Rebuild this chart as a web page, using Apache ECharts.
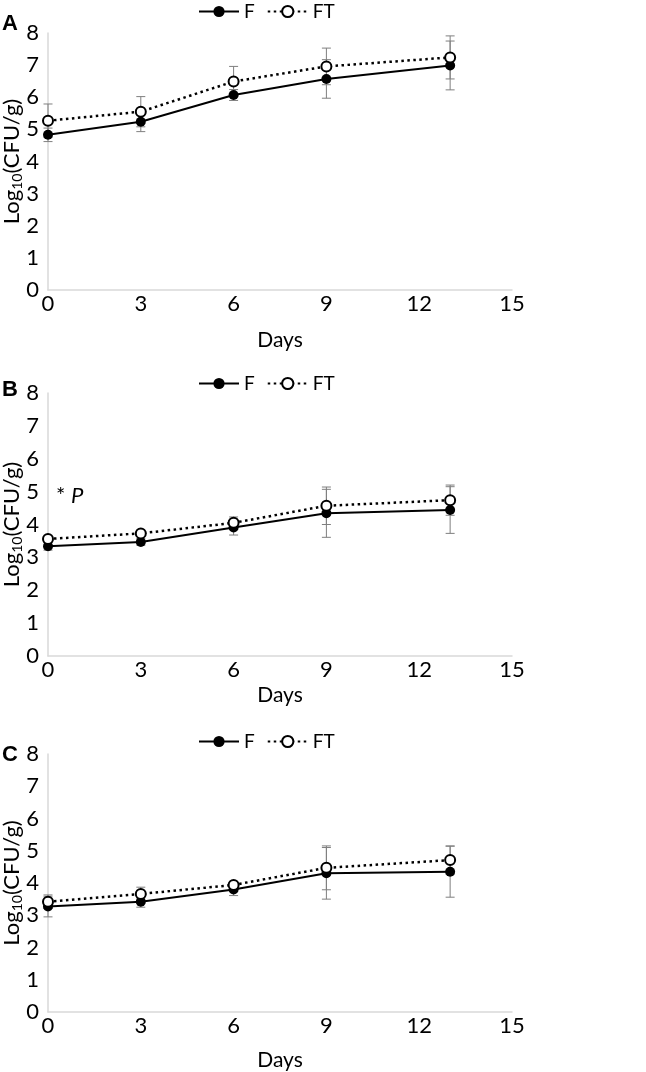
<!DOCTYPE html>
<html><head><meta charset="utf-8">
<script src="https://cdn.jsdelivr.net/npm/echarts/dist/echarts.min.js"></script>
<style>html,body{margin:0;padding:0;background:#fff}#c{width:646px;height:1072px}</style>
</head><body><div id="c"></div>
<script>
// ---- data ----
const days = [0, 3, 6, 9, 13];
const xTickMin = 0, xTickMax = 15, xTickStep = 3;
const yTickMin = 0, yTickMax = 8, yTickStep = 1;
const seriesNames = ['F', 'FT'];
const panelLetters = ['A', 'B', 'C'];
const xTitle = 'Days';
const yTitle = 'Log{sub|10}(CFU/g)';
const noteB = '* {i|P}';

const A_F      = [4.83, 5.24, 6.07, 6.57, 6.99];
const A_F_err  = [0.21, 0.31, 0.17, 0.60, 0.76];
const A_FT     = [5.27, 5.55, 6.49, 6.96, 7.24];
const A_FT_err = [0.52, 0.47, 0.47, 0.57, 0.67];

const B_F      = [3.34, 3.47, 3.91, 4.34, 4.44];
const B_F_err  = [0.12, 0.10, 0.23, 0.73, 0.71];
const B_FT     = [3.56, 3.73, 4.05, 4.57, 4.74];
const B_FT_err = [0.06, 0.08, 0.18, 0.57, 0.46];

const C_F      = [3.27, 3.42, 3.80, 4.30, 4.35];
const C_F_err  = [0.32, 0.17, 0.19, 0.80, 0.79];
const C_FT     = [3.42, 3.66, 3.94, 4.47, 4.71];
const C_FT_err = [0.21, 0.21, 0.10, 0.68, 0.44];

// ---- layout ----
const panelData = [
  {F: A_F, Fe: A_F_err, FT: A_FT, FTe: A_FT_err},
  {F: B_F, Fe: B_F_err, FT: B_FT, FTe: B_FT_err},
  {F: C_F, Fe: C_F_err, FT: C_FT, FTe: C_FT_err}
];
const layout = [
  {top: 33,  height: 257, legendTop: -3,  nameGap: 40, letterY: 21},
  {top: 393, height: 263, legendTop: 369, nameGap: 29, letterY: 387},
  {top: 754, height: 258, legendTop: 727, nameGap: 38, letterY: 752}
];
const GRID_LEFT = 48, GRID_W = 464;
const tickFont = 'Lato, sans-serif';
const axisColor = '#d9d9d9';

function errRender(params, api) {
  const x = api.value(0), lo = api.value(1), hi = api.value(2);
  const a = api.coord([x, lo]), b = api.coord([x, hi]);
  const w = 4.5;
  const st = {stroke: '#7f7f7f', lineWidth: 1};
  return {type: 'group', children: [
    {type: 'line', shape: {x1: a[0], y1: a[1], x2: b[0], y2: b[1]}, style: st},
    {type: 'line', shape: {x1: a[0] - w, y1: a[1], x2: a[0] + w, y2: a[1]}, style: st},
    {type: 'line', shape: {x1: b[0] - w, y1: b[1], x2: b[0] + w, y2: b[1]}, style: st}
  ]};
}

const grids = [], xAxes = [], yAxes = [], legends = [], series = [], graphics = [];
panelData.forEach((pd, i) => {
  const L = layout[i];
  grids.push({left: GRID_LEFT, top: L.top, width: GRID_W, height: L.height,
    containLabel: false, outerBoundsMode: 'none'});
  xAxes.push({
    type: 'value', gridIndex: i, min: xTickMin, max: xTickMax, interval: xTickStep,
    name: xTitle, nameLocation: 'middle', nameGap: L.nameGap, nameMoveOverlap: false,
    nameTextStyle: {fontFamily: tickFont, fontSize: 21, color: '#000'},
    axisLine: {lineStyle: {color: axisColor, width: 1.5}},
    axisTick: {show: false}, splitLine: {show: false},
    axisLabel: {margin: 3, fontFamily: tickFont, fontSize: 22, color: '#000'}
  });
  yAxes.push({
    type: 'value', gridIndex: i, min: yTickMin, max: yTickMax, interval: yTickStep,
    name: yTitle, nameLocation: 'middle', nameGap: 24, nameRotate: 90, nameMoveOverlap: false,
    nameTextStyle: {fontFamily: 'Lato, sans-serif', fontSize: 22, color: '#000',
      lineHeight: 24,
      rich: {sub: {fontFamily: 'Lato, sans-serif', fontSize: 14, lineHeight: 10, verticalAlign: 'bottom', color: '#000'}}},
    axisLine: {show: true, lineStyle: {color: axisColor, width: 1.5}},
    axisTick: {show: false}, splitLine: {show: false},
    axisLabel: {margin: 9, fontFamily: tickFont, fontSize: 22, color: '#000'}
  });
  legends.push({
    data: seriesNames, left: 193, top: L.legendTop, itemWidth: 40, itemHeight: 14, itemGap: 12,
    selectedMode: false,
    textStyle: {fontFamily: tickFont, fontSize: 19, color: '#000'}
  });
  const errData = [];
  days.forEach((d, j) => {
    errData.push([d, pd.F[j] - pd.Fe[j], pd.F[j] + pd.Fe[j]]);
    errData.push([d, pd.FT[j] - pd.FTe[j], pd.FT[j] + pd.FTe[j]]);
  });
  series.push({
    type: 'custom', name: 'err' + i, xAxisIndex: i, yAxisIndex: i, z: 1, silent: true,
    renderItem: errRender, encode: {x: 0, y: [1, 2]}, data: errData
  });
  series.push({
    type: 'line', name: seriesNames[0], xAxisIndex: i, yAxisIndex: i, z: 3,
    data: days.map((d, j) => [d, pd.F[j]]),
    symbol: 'circle', symbolSize: 10,
    itemStyle: {color: '#000'}, lineStyle: {color: '#000', width: 2}
  });
  series.push({
    type: 'line', name: seriesNames[1], xAxisIndex: i, yAxisIndex: i, z: 4,
    data: days.map((d, j) => [d, pd.FT[j]]),
    symbol: 'emptyCircle', symbolSize: 10,
    itemStyle: {color: '#000', borderWidth: 2}, lineStyle: {color: '#000', width: 2.5, type: [2.5, 3.5]}
  });
  graphics.push({
    type: 'text', left: 2, top: L.letterY - 8,
    style: {text: panelLetters[i], fontSize: 22, fontWeight: 'bold', fontFamily: 'Liberation Sans, Arial, sans-serif', fill: '#000'}
  });
});
graphics.push({
  type: 'text', left: 56, top: 485,
  style: {text: noteB, fontSize: 22, fontFamily: 'Lato, sans-serif', fill: '#000',
    rich: {i: {fontStyle: 'italic', fontFamily: 'Lato, sans-serif', fontSize: 22}}}
});

const chart = echarts.init(document.getElementById('c'), null, {renderer: 'canvas'});
chart.setOption({
  animation: false, backgroundColor: '#fff',
  grid: grids, xAxis: xAxes, yAxis: yAxes, legend: legends, series: series, graphic: graphics
});
</script></body></html>
